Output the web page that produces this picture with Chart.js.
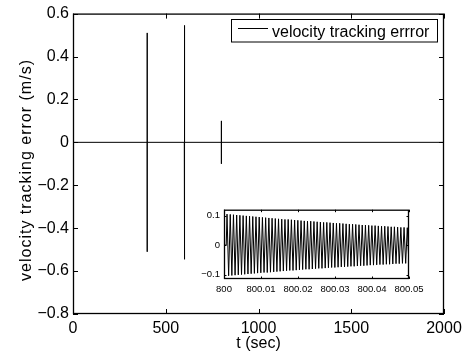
<!DOCTYPE html>
<html><head><meta charset="utf-8">
<script src="https://cdn.jsdelivr.net/npm/chart.js@4/dist/chart.umd.min.js"></script>
<style>
html,body{margin:0;padding:0;background:#fff;}
#wrap{position:relative;width:473px;height:353px;overflow:hidden;}
#main{position:absolute;left:0;top:0;}
#inset{position:absolute;left:190px;top:200px;}
</style></head><body>
<div id="wrap"><canvas id="main" width="473" height="353"></canvas><canvas id="inset" width="250" height="100"></canvas></div>
<script>
const FONT = '"Liberation Sans", Arial, Helvetica, sans-serif';

// ---- main plot data: time (s) and velocity tracking error (m/s)
const mainTimes  = [0, 399.9, 400, 400, 400.1, 599.9, 600, 600, 600.1, 602.5, 602.5, 602.6, 799.9, 800, 800, 800.1, 2000];
const mainErrors = [0, 0, 0.51, -0.51, 0, 0, 0.545, -0.545, 0, 0.28, -0.28, 0, 0, 0.10, -0.10, 0, 0];
const xTickValues = [0, 500, 1000, 1500, 2000];
const xTickLabels = ['0', '500', '1000', '1500', '2000'];
const yTickValues = [-0.8, -0.6, -0.4, -0.2, 0, 0.2, 0.4, 0.6];
const yTickLabels = ['\u22120.8', '\u22120.6', '\u22120.4', '\u22120.2', '0', '0.2', '0.4', '0.6'];
const seriesLabel = 'velocity tracking errror';
const xTitle = 't (sec)';
const yTitle = 'velocity tracking error (m/s)';

// ---- inset (zoom around t = 800 s): oscillation extrema per cycle
const insetStart = 800.0006;
const insetPeriod = 0.00087;
const insetUpper = [0.105,0.104,0.103,0.102,0.101,0.100,0.099,0.098,0.097,0.096,
  0.095,0.094,0.093,0.092,0.091,0.090,0.089,0.088,0.087,0.087,
  0.086,0.085,0.084,0.083,0.082,0.081,0.081,0.080,0.079,0.078,
  0.077,0.077,0.076,0.075,0.074,0.074,0.073,0.072,0.071,0.071,
  0.070,0.069,0.068,0.068,0.067,0.066,0.066,0.065,0.064,0.064,
  0.063,0.062,0.062,0.061,0.060,0.060,0.059];
const insetLower = [-0.104,-0.103,-0.102,-0.101,-0.100,-0.099,-0.098,-0.097,-0.096,-0.095,
  -0.094,-0.093,-0.093,-0.092,-0.091,-0.090,-0.089,-0.088,-0.087,-0.086,
  -0.086,-0.085,-0.084,-0.083,-0.082,-0.082,-0.081,-0.080,-0.079,-0.079,
  -0.078,-0.077,-0.076,-0.076,-0.075,-0.074,-0.074,-0.073,-0.072,-0.072,
  -0.071,-0.070,-0.070,-0.069,-0.068,-0.068,-0.067,-0.066,-0.066,-0.065,
  -0.065,-0.064,-0.063,-0.063,-0.062,-0.062,-0.061];
const insetXTickValues = [800, 800.01, 800.02, 800.03, 800.04, 800.05];
const insetXTickLabels = ['800', '800.01', '800.02', '800.03', '800.04', '800.05'];
const insetYTickValues = [-0.1, 0, 0.1];
const insetYTickLabels = ['\u22120.1', '0', '0.1'];

// build datasets
const mainData = mainTimes.map((t, i) => ({x: t, y: mainErrors[i]}));
const insetData = [{x: 800, y: 0}, {x: insetStart, y: 0}];
insetUpper.forEach((u, i) => {
  insetData.push({x: insetStart + (i + 0.25) * insetPeriod, y: u});
  insetData.push({x: insetStart + (i + 0.75) * insetPeriod, y: insetLower[i]});
});

function frameAndTicks(tickLen, xVals, yVals) {
  return {
    id: 'frameTicks',
    beforeDatasetsDraw(chart) {
      const {ctx, chartArea: a} = chart;
      ctx.save(); ctx.fillStyle = '#fff';
      ctx.fillRect(a.left, a.top, a.right - a.left, a.bottom - a.top);
      ctx.restore();
    },
    afterDatasetsDraw(chart) {
      const {ctx, chartArea: a, scales: {x, y}} = chart;
      ctx.save();
      ctx.strokeStyle = '#000'; ctx.lineWidth = 1;
      ctx.beginPath();
      xVals.forEach(v => {
        const px = Math.round(x.getPixelForValue(v)) + 0.5;
        ctx.moveTo(px, a.bottom); ctx.lineTo(px, a.bottom - tickLen);
        ctx.moveTo(px, a.top); ctx.lineTo(px, a.top + tickLen);
      });
      yVals.forEach(v => {
        const py = Math.round(y.getPixelForValue(v)) + 0.5;
        ctx.moveTo(a.left, py); ctx.lineTo(a.left + tickLen, py);
        ctx.moveTo(a.right, py); ctx.lineTo(a.right - tickLen, py);
      });
      ctx.stroke();
      ctx.lineWidth = 1.3;
      ctx.strokeRect(a.left + 0.5, a.top + 0.5, a.right - a.left - 1, a.bottom - a.top - 1);
      ctx.restore();
    }
  };
}

const mainDecor = {
  id: 'mainDecor',
  afterDraw(chart) {
    const {ctx, chartArea: a} = chart;
    ctx.save();
    ctx.fillStyle = '#000'; ctx.strokeStyle = '#000';
    // axis titles
    ctx.font = '16px ' + FONT;
    ctx.textAlign = 'center'; ctx.textBaseline = 'alphabetic';
    ctx.fillText(xTitle, (a.left + a.right) / 2, 348);
    ctx.save();
    ctx.translate(31, 170);
    ctx.rotate(-Math.PI / 2);
    try { ctx.letterSpacing = '1px'; } catch (e) {}
    ctx.fillText(yTitle, 0, 0);
    ctx.restore();
    // legend box
    const lx = 231, ly = 19, lw = 206, lh = 22.5;
    ctx.fillStyle = '#fff';
    ctx.fillRect(lx, ly, lw, lh);
    ctx.lineWidth = 1;
    ctx.strokeRect(lx + 0.5, ly + 0.5, lw, lh);
    ctx.beginPath();
    ctx.moveTo(238, 28.5); ctx.lineTo(268, 28.5);
    ctx.stroke();
    ctx.fillStyle = '#000';
    ctx.textAlign = 'left';
    ctx.fillText(seriesLabel, 272, 36.5);
    ctx.restore();
  }
};

new Chart(document.getElementById('main'), {
  type: 'line',
  data: {datasets: [{label: seriesLabel, data: mainData, borderColor: '#000', borderWidth: 1,
    pointRadius: 0, tension: 0, fill: false}]},
  options: {
    responsive: false, animation: false, devicePixelRatio: 1,
    layout: {padding: {left: 0, right: 29, top: 13, bottom: 0}},
    plugins: {legend: {display: false}, tooltip: {enabled: false}},
    scales: {
      x: {
        type: 'linear', min: 0, max: 2000,
        afterBuildTicks: s => { s.ticks = xTickValues.map(v => ({value: v})); },
        afterFit: s => { s.height = 39; },
        grid: {display: false, drawTicks: false}, border: {display: false},
        ticks: {color: '#000', font: {family: FONT, size: 16}, padding: 5, autoSkip: false, maxRotation: 0,
          callback: (v, i) => xTickLabels[i]}
      },
      y: {
        type: 'linear', min: -0.8, max: 0.6,
        afterBuildTicks: s => { s.ticks = yTickValues.map(v => ({value: v})); },
        afterFit: s => { s.width = 73; },
        grid: {display: false, drawTicks: false}, border: {display: false},
        ticks: {color: '#000', font: {family: FONT, size: 16}, padding: 4, autoSkip: false,
          callback: (v, i) => yTickLabels[i]}
      }
    }
  },
  plugins: [frameAndTicks(5, xTickValues, yTickValues), mainDecor]
});

new Chart(document.getElementById('inset'), {
  type: 'line',
  data: {datasets: [{label: seriesLabel, data: insetData, borderColor: '#000', borderWidth: 1,
    pointRadius: 0, tension: 0, fill: false}]},
  options: {
    responsive: false, animation: false, devicePixelRatio: 1,
    layout: {padding: {left: 0, right: 31, top: 8, bottom: 0}},
    plugins: {legend: {display: false}, tooltip: {enabled: false}},
    scales: {
      x: {
        type: 'linear', min: 800, max: 800.05,
        afterBuildTicks: s => { s.ticks = insetXTickValues.map(v => ({value: v})); },
        afterFit: s => { s.height = 21; },
        grid: {display: false, drawTicks: false}, border: {display: false},
        ticks: {color: '#000', font: {family: FONT, size: 9.5}, padding: 5, autoSkip: false, maxRotation: 0,
          callback: (v, i) => insetXTickLabels[i]}
      },
      y: {
        type: 'linear', min: -0.115, max: 0.12,
        afterBuildTicks: s => { s.ticks = insetYTickValues.map(v => ({value: v})); },
        afterFit: s => { s.width = 34; },
        grid: {display: false, drawTicks: false}, border: {display: false},
        ticks: {color: '#000', font: {family: FONT, size: 9.5}, padding: 4, autoSkip: false,
          callback: (v, i) => insetYTickLabels[i]}
      }
    }
  },
  plugins: [frameAndTicks(2.5, insetXTickValues, insetYTickValues)]
});
</script>
</body></html>
